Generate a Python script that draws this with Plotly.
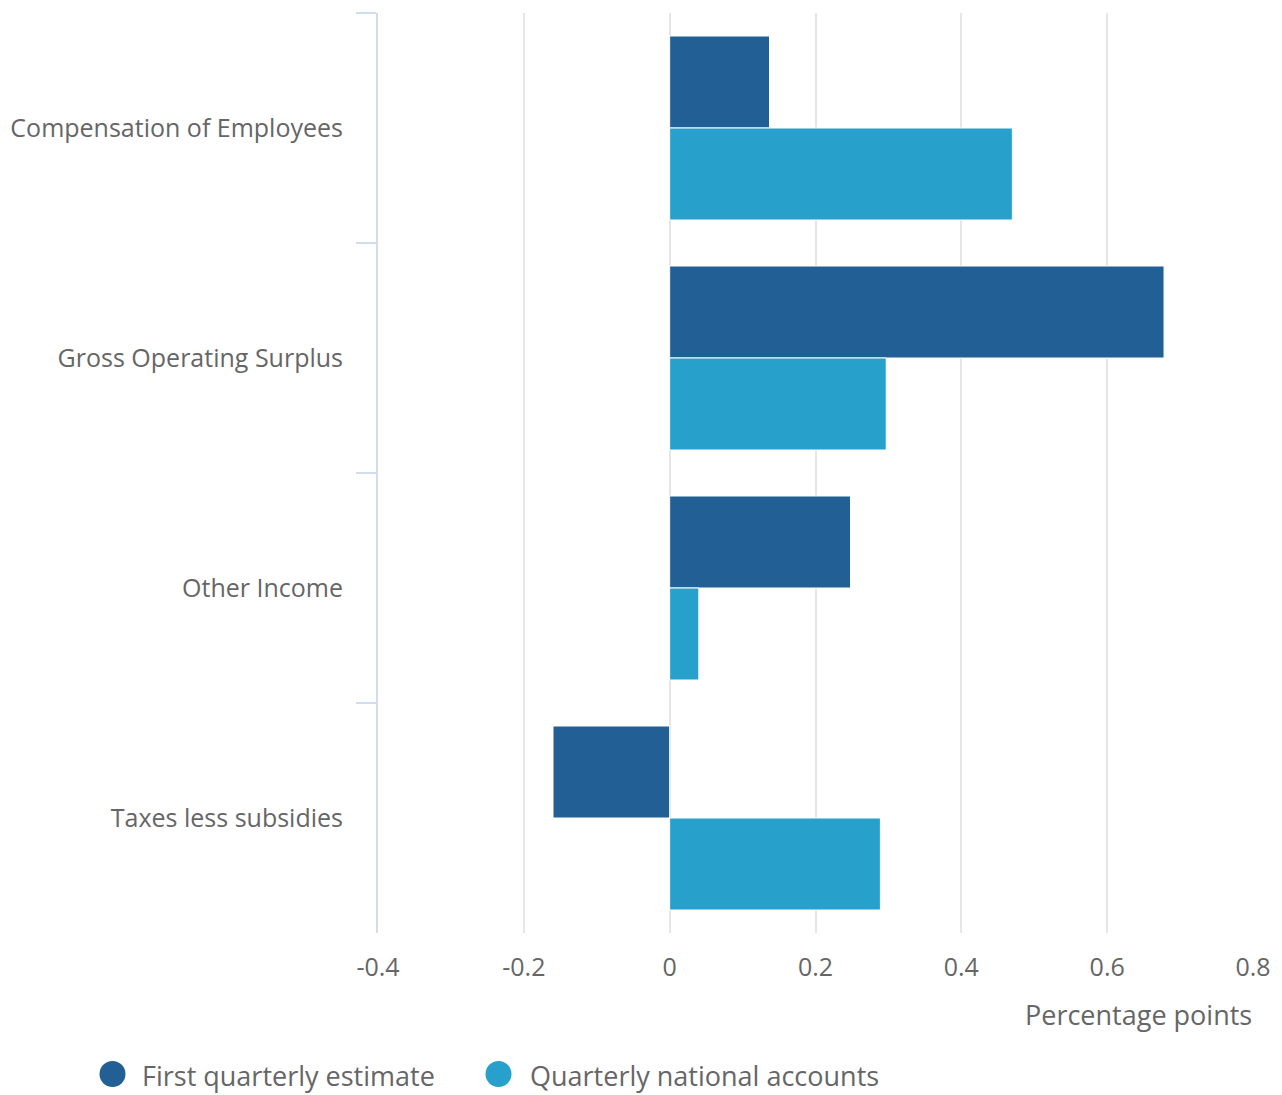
import plotly.graph_objects as go

categories = ["Compensation of Employees", "Gross Operating Surplus", "Other Income", "Taxes less subsidies"]
first_estimate = [0.137, 0.678, 0.248, -0.16]
quarterly_na = [0.47, 0.297, 0.04, 0.289]
x_ticks = [-0.4, -0.2, 0, 0.2, 0.4, 0.6, 0.8]
x_tick_labels = ["-0.4", "-0.2", "0", "0.2", "0.4", "0.6", "0.8"]
series_names = ["First quarterly estimate", "Quarterly national accounts"]
x_title = "Percentage points"

dark = "#215f94"
light = "#27a0cc"
text_color = "#666666"
axis_color = "#d3dbef"
font_family = "Open Sans"

W, H = 1274, 1087
ML, MR, MT, MB = 370, 29, 5, 162
PW = W - ML - MR
PH = H - MT - MB


def px_to_paper(fx, fy):
    return (fx - ML) / PW, (H - MB - fy) / PH


fig = go.Figure()
for name, vals, col in [(series_names[0], first_estimate, dark), (series_names[1], quarterly_na, light)]:
    fig.add_trace(go.Bar(
        y=categories, x=vals, orientation="h", name=name,
        marker=dict(color=col, line=dict(color="white", width=1)),
        showlegend=False,
    ))

# custom legend (large circles)
legend_items = [(series_names[0], dark, 104.5, 133), (series_names[1], light, 490.5, 521)]
shapes = []
annotations = []
for name, col, cx, tx in legend_items:
    xp, yp = px_to_paper(cx, 1066)
    shapes.append(dict(
        type="circle", xref="paper", yref="paper",
        xsizemode="pixel", ysizemode="pixel",
        xanchor=xp, yanchor=yp, x0=-13, x1=13, y0=-13, y1=13,
        fillcolor=col, line=dict(width=0), layer="above",
    ))
    txp, typ = px_to_paper(tx, 1067)
    annotations.append(dict(
        text=name, xref="paper", yref="paper", x=txp, y=typ,
        xanchor="left", yanchor="middle", showarrow=False,
        font=dict(size=27, color=text_color), borderpad=0,
    ))

tx_, ty_ = px_to_paper(1245, 1006)
annotations.append(dict(
    text=x_title, xref="paper", yref="paper",
    x=1, y=ty_, xanchor="right", yanchor="middle", showarrow=False,
    font=dict(size=27, color=text_color), borderpad=0,
))

fig.update_layout(
    width=W, height=H,
    margin=dict(l=ML, r=MR, t=MT, b=MB, autoexpand=False),
    paper_bgcolor="white", plot_bgcolor="white",
    font=dict(family=font_family, size=25, color=text_color),
    barmode="group", bargap=0.2, bargroupgap=0,
    showlegend=False,
    xaxis=dict(
        range=[-0.4, 0.8], tickvals=x_ticks, ticktext=x_tick_labels,
        showgrid=True, gridcolor="#e6e6e6", gridwidth=2,
        zeroline=False, showline=False, ticks="",
        tickfont=dict(size=25, color=text_color),
        ticklabelstandoff=17,
    ),
    yaxis=dict(
        autorange="reversed", showgrid=False, zeroline=False,
        showline=True, linecolor=axis_color, linewidth=2,
        ticks="outside", ticklen=20, tickwidth=2, tickcolor=axis_color,
        tickson="boundaries", ticklabelstandoff=28,
        tickfont=dict(size=25, color=text_color),
    ),
    shapes=shapes,
    annotations=annotations,
)

fig.write_html("out.html")
